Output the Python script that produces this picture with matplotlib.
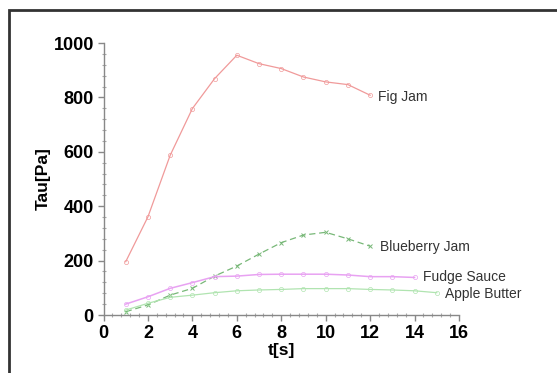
import matplotlib
matplotlib.use("Agg")
import matplotlib.pyplot as plt
from matplotlib.ticker import MultipleLocator
from matplotlib.patches import Rectangle

plt.rcParams['font.family'] = ['Liberation Sans', 'DejaVu Sans']

fig_t = [1, 2, 3, 4, 5, 6, 7, 8, 9, 10, 11, 12]
fig_jam = [196, 361, 587, 759, 869, 955, 924, 906, 875, 857, 847, 808]

blue_t = [1, 2, 3, 4, 5, 6, 7, 8, 9, 10, 11, 12]
blueberry_jam = [12, 37, 73, 98, 143, 180, 224, 266, 294, 304, 280, 253]

fudge_t = [1, 2, 3, 4, 5, 6, 7, 8, 9, 10, 11, 12, 13, 14]
fudge_sauce = [40, 67, 98, 119, 141, 143, 149, 150, 150, 150, 147, 141, 141, 138]

apple_t = [1, 2, 3, 4, 5, 6, 7, 8, 9, 10, 11, 12, 13, 14, 15]
apple_butter = [18, 43, 65, 73, 82, 89, 92, 94, 97, 97, 97, 94, 92, 89, 82]

labels = ["Fig Jam", "Blueberry Jam", "Fudge Sauce", "Apple Butter"]
label_pos = [(12.35, 800), (12.45, 250), (14.37, 140), (15.37, 77)]

fig = plt.figure(figsize=(5.57, 3.73), dpi=100)
fig.patches.append(Rectangle((9/557, -0.1), 1.2, (373-10)/373 + 0.1, transform=fig.transFigure,
                             fill=False, edgecolor='#333333', linewidth=2))
ax = fig.add_axes([103.5/557, 1-315/373, 355.5/557, 272/373])

ax.plot(fig_t, fig_jam, color='#f09a9a', lw=0.9, marker='o', ms=3, mfc='none', mew=0.5, clip_on=False)
ax.plot(blue_t, blueberry_jam, color='#78b878', lw=0.9, ls=(0, (5, 3)), marker='x', ms=3.5, mew=0.7, clip_on=False)
ax.plot(fudge_t, fudge_sauce, color='#e8a2f2', lw=1.1, marker='o', ms=3, mfc='none', mew=0.5, clip_on=False)
ax.plot(apple_t, apple_butter, color='#b0e4b0', lw=0.9, marker='o', ms=3, mfc='none', mew=0.5, clip_on=False)

for lab, (x, y) in zip(labels, label_pos):
    ax.text(x, y, lab, fontsize=10, color='#333333', va='center', ha='left', clip_on=False)

ax.set_xlim(0, 16)
ax.set_ylim(0, 1000)
ax.xaxis.set_major_locator(MultipleLocator(2))
ax.xaxis.set_minor_locator(MultipleLocator(0.4))
ax.yaxis.set_major_locator(MultipleLocator(200))
ax.yaxis.set_minor_locator(MultipleLocator(40))
for s in ['top', 'right']:
    ax.spines[s].set_visible(False)
for s in ['left', 'bottom']:
    ax.spines[s].set_color('#888888')
    ax.spines[s].set_linewidth(1.0)
ax.tick_params(which='major', direction='out', length=4, width=1, color='#888888',
               labelsize=13, pad=3)
ax.tick_params(which='minor', direction='inout', length=3, width=0.8, color='#aaaaaa')
for lbl in ax.get_xticklabels() + ax.get_yticklabels():
    lbl.set_fontweight('bold')

ax.set_xlabel('t[s]', fontsize=12.5, fontweight='bold', labelpad=1)
ax.set_ylabel('Tau[Pa]', fontsize=12.5, fontweight='bold', labelpad=2)

fig.savefig('out.png', dpi=100)
